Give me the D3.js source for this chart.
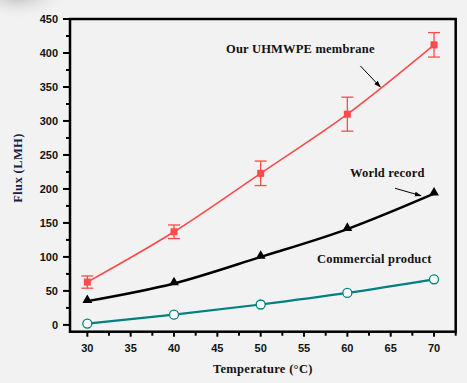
<!DOCTYPE html>
<html lang="en">
<head>
<meta charset="utf-8">
<title>Flux vs temperature</title>
<script src="https://cdn.jsdelivr.net/npm/d3@7/dist/d3.min.js"></script>
<style>
  html, body { margin: 0; padding: 0; background: #f2f2f2; }
  svg { display: block; }
  .tick-label { font-family: Arial, "Liberation Sans", sans-serif; font-weight: bold; font-size: 11px; fill: #111; }
  .serif { font-family: "Times New Roman", "Liberation Serif", serif; font-weight: bold; }
</style>
</head>
<body>
<script>

// data
var temps = [30, 40, 50, 60, 70];
var uhmwpe = [63, 137, 223, 310, 412];
var uhmwpeErr = [9, 10, 18, 25, 18];
var worldRecord = [35, 61, 100, 141, 193];
var commercial = [2, 15, 30, 47, 67];

var xTicks = [30, 35, 40, 45, 50, 55, 60, 65, 70];
var yTicks = [0, 50, 100, 150, 200, 250, 300, 350, 400, 450];

// annotation text + arrows, in data units
var notes = [
  { text: "Our UHMWPE membrane", x: 46.0, y: 400, from: [61.5, 381], to: [63.8, 350] },
  { text: "World record", x: 60.3, y: 217, from: [65.5, 201], to: [68.5, 190] },
  { text: "Commercial product", x: 56.5, y: 91, from: null, to: null }
];

var W = 467, H = 383;
var plotL = 70, plotR = 455.7, plotT = 19, plotB = 331.7;

var svg = d3.select("body").append("svg")
    .attr("width", W)
    .attr("height", H);

var defs = svg.append("defs");
var grad = defs.append("radialGradient").attr("id", "shade")
    .attr("cx", 0.5).attr("cy", 0.5).attr("r", 0.5);
grad.append("stop").attr("offset", 0).attr("stop-color", "#b0b0b0").attr("stop-opacity", 0.9);
grad.append("stop").attr("offset", 1).attr("stop-color", "#f2f2f2").attr("stop-opacity", 0);

defs.append("marker").attr("id", "head")
    .attr("viewBox", "0 0 10 10").attr("refX", 9).attr("refY", 5)
    .attr("markerWidth", 7).attr("markerHeight", 7)
    .attr("orient", "auto")
  .append("path").attr("d", "M0,1.5 L10,5 L0,8.5 Z").attr("fill", "#000");

svg.append("rect").attr("width", W).attr("height", H).attr("fill", "#f2f2f2");
// soft shadow in the top-left corner
svg.append("ellipse").attr("cx", 18).attr("cy", -6).attr("rx", 55).attr("ry", 26)
    .attr("fill", "url(#shade)");

var x = d3.scaleLinear().domain([28, 72.5]).range([plotL, plotR]);
var y = d3.scaleLinear().domain([-10, 450]).range([plotB, plotT]);

// frame
svg.append("rect")
    .attr("x", plotL).attr("y", plotT)
    .attr("width", plotR - plotL).attr("height", plotB - plotT)
    .attr("fill", "none").attr("stroke", "#000").attr("stroke-width", 2.5);

// axes
var xMinor = d3.range(30, 72.6, 2.5);
var xAxis = svg.append("g").attr("transform", "translate(0," + plotB + ")");
xAxis.selectAll("line").data(xMinor).enter().append("line")
    .attr("x1", function(d) { return x(d); }).attr("x2", function(d) { return x(d); })
    .attr("y1", 0).attr("y2", function(d) { return d % 5 === 0 ? 5 : 4; })
    .attr("stroke", "#000").attr("stroke-width", 2);
xAxis.selectAll("text").data(xTicks).enter().append("text")
    .attr("class", "tick-label")
    .attr("x", function(d) { return x(d); })
    .attr("y", 20)
    .attr("text-anchor", "middle")
    .text(function(d) { return d; });

var yMinor = d3.range(0, 451, 25);
var yAxis = svg.append("g").attr("transform", "translate(" + plotL + ",0)");
yAxis.selectAll("line").data(yMinor).enter().append("line")
    .attr("y1", function(d) { return y(d); }).attr("y2", function(d) { return y(d); })
    .attr("x1", 0).attr("x2", function(d) { return d % 50 === 0 ? -7 : -4; })
    .attr("stroke", "#000").attr("stroke-width", 2);
yAxis.selectAll("text").data(yTicks).enter().append("text")
    .attr("class", "tick-label")
    .attr("x", -12)
    .attr("y", function(d) { return y(d) + 4; })
    .attr("text-anchor", "end")
    .text(function(d) { return d; });

// axis titles
svg.append("text").attr("class", "serif")
    .attr("x", (plotL + plotR) / 2).attr("y", 373)
    .attr("text-anchor", "middle")
    .attr("font-size", "12.5px").attr("letter-spacing", "0.3px")
    .attr("fill", "#111")
    .text("Temperature (\u00B0C)");

svg.append("text").attr("class", "serif")
    .attr("transform", "translate(22,168) rotate(-90)")
    .attr("text-anchor", "middle")
    .attr("font-size", "12.5px").attr("letter-spacing", "0.4px")
    .attr("fill", "#1c1c44")
    .text("Flux (LMH)");

var line = d3.line()
    .x(function(d) { return x(d[0]); })
    .y(function(d) { return y(d[1]); })
    .curve(d3.curveMonotoneX);

function pairs(vals) {
  return temps.map(function(t, i) { return [t, vals[i]]; });
}

// commercial product (teal, open circles)
svg.append("path").datum(pairs(commercial))
    .attr("d", line).attr("fill", "none")
    .attr("stroke", "#008080").attr("stroke-width", 2.2);
svg.selectAll("circle.comm").data(pairs(commercial)).enter().append("circle")
    .attr("class", "comm")
    .attr("cx", function(d) { return x(d[0]); })
    .attr("cy", function(d) { return y(d[1]); })
    .attr("r", 4.5)
    .attr("fill", "#fff").attr("stroke", "#008080").attr("stroke-width", 1.3);

// world record (black, triangles)
svg.append("path").datum(pairs(worldRecord))
    .attr("d", line).attr("fill", "none")
    .attr("stroke", "#000").attr("stroke-width", 2.5);
svg.selectAll("path.tri").data(pairs(worldRecord)).enter().append("path")
    .attr("class", "tri")
    .attr("d", d3.symbol().type(d3.symbolTriangle).size(42))
    .attr("transform", function(d) { return "translate(" + x(d[0]) + "," + (y(d[1]) - 1) + ")"; })
    .attr("fill", "#000");

// UHMWPE (red, squares with error bars)
var red = "#ff4a4a";
svg.append("path").datum(pairs(uhmwpe))
    .attr("d", line).attr("fill", "none")
    .attr("stroke", red).attr("stroke-width", 1.6);

var errG = svg.selectAll("g.err").data(temps).enter().append("g").attr("class", "err");
errG.append("line")
    .attr("x1", function(d) { return x(d); }).attr("x2", function(d) { return x(d); })
    .attr("y1", function(d, i) { return y(uhmwpe[i] + uhmwpeErr[i]); })
    .attr("y2", function(d, i) { return y(uhmwpe[i] - uhmwpeErr[i]); })
    .attr("stroke", red).attr("stroke-width", 1.3);
errG.append("line")
    .attr("x1", function(d) { return x(d) - 6; }).attr("x2", function(d) { return x(d) + 6; })
    .attr("y1", function(d, i) { return y(uhmwpe[i] + uhmwpeErr[i]); })
    .attr("y2", function(d, i) { return y(uhmwpe[i] + uhmwpeErr[i]); })
    .attr("stroke", red).attr("stroke-width", 1.3);
errG.append("line")
    .attr("x1", function(d) { return x(d) - 6; }).attr("x2", function(d) { return x(d) + 6; })
    .attr("y1", function(d, i) { return y(uhmwpe[i] - uhmwpeErr[i]); })
    .attr("y2", function(d, i) { return y(uhmwpe[i] - uhmwpeErr[i]); })
    .attr("stroke", red).attr("stroke-width", 1.3);
errG.append("rect")
    .attr("x", function(d) { return x(d) - 3.5; })
    .attr("y", function(d, i) { return y(uhmwpe[i]) - 3.5; })
    .attr("width", 7).attr("height", 7)
    .attr("fill", red);

// annotations
notes.forEach(function(n) {
  svg.append("text").attr("class", "serif")
      .attr("x", x(n.x)).attr("y", y(n.y))
      .attr("font-size", "12.5px").attr("letter-spacing", "0.2px")
      .attr("fill", "#111")
      .text(n.text);
  if (n.from) {
    svg.append("line")
        .attr("x1", x(n.from[0])).attr("y1", y(n.from[1]))
        .attr("x2", x(n.to[0])).attr("y2", y(n.to[1]))
        .attr("stroke", "#000").attr("stroke-width", 1)
        .attr("marker-end", "url(#head)");
  }
});

</script>
</body>
</html>
